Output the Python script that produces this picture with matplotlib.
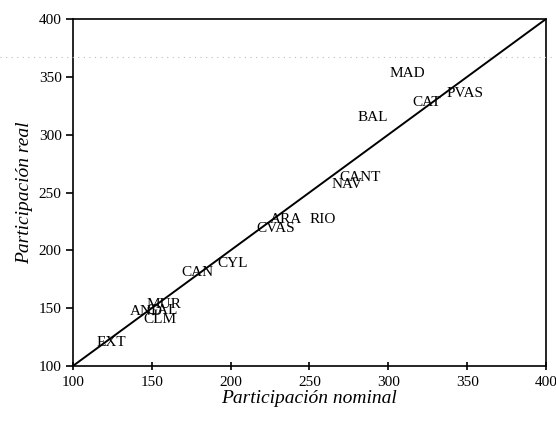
import matplotlib
matplotlib.use('Agg')
import matplotlib.pyplot as plt
from matplotlib.lines import Line2D

plt.rcParams['font.family'] = ['Liberation Serif', 'DejaVu Serif']

# regions: nominal vs real participation
regiones = ['MAD', 'PVAS', 'CAT', 'BAL', 'CANT', 'NAV', 'ARA', 'RIO', 'CVAS',
            'CYL', 'CAN', 'MUR', 'AND', 'GAL', 'CLM', 'EXT']
nominal = [311.8, 348.6, 324.5, 290.2, 282.0, 273.7, 235.1, 258.5, 228.7,
           201.5, 179.3, 157.7, 146.9, 156.4, 155.2, 124.7]
real = [353.2, 336.0, 328.2, 315.2, 263.4, 257.3, 227.0, 227.0, 219.3,
        189.0, 181.2, 153.6, 147.5, 148.4, 140.6, 119.9]

diag = [100, 400]
ticks = [100, 150, 200, 250, 300, 350, 400]

fig = plt.figure(figsize=(5.56, 4.21), dpi=100)
ax = fig.add_axes([0.131, 0.1306, 0.851, 0.8243])

ax.plot(diag, diag, color='black', lw=1.4)

for lab, x, y in zip(regiones, nominal, real):
    ax.text(x, y, lab, ha='center', va='center', fontsize=11)

ax.set_xlim(100, 400)
ax.set_ylim(100, 400)
ax.set_xticks(ticks)
ax.set_yticks(ticks)
ax.tick_params(axis='x', direction='inout', length=6, width=1.2, labelsize=11, pad=4)
ax.tick_params(axis='y', direction='out', length=5, width=1.2, labelsize=11, pad=3)
for s in ax.spines.values():
    s.set_linewidth(1.2)

ax.set_xlabel('Participación nominal', fontsize=14, style='italic', labelpad=1)
ax.set_ylabel('Participación real', fontsize=14, style='italic', labelpad=4)

# faint dotted streak across the page
fig.add_artist(Line2D([0, 1], [0.865, 0.865], transform=fig.transFigure,
                      color='#bbbbbb', lw=0.8, ls=(0, (1, 4))))

fig.savefig('out.png', dpi=100)
